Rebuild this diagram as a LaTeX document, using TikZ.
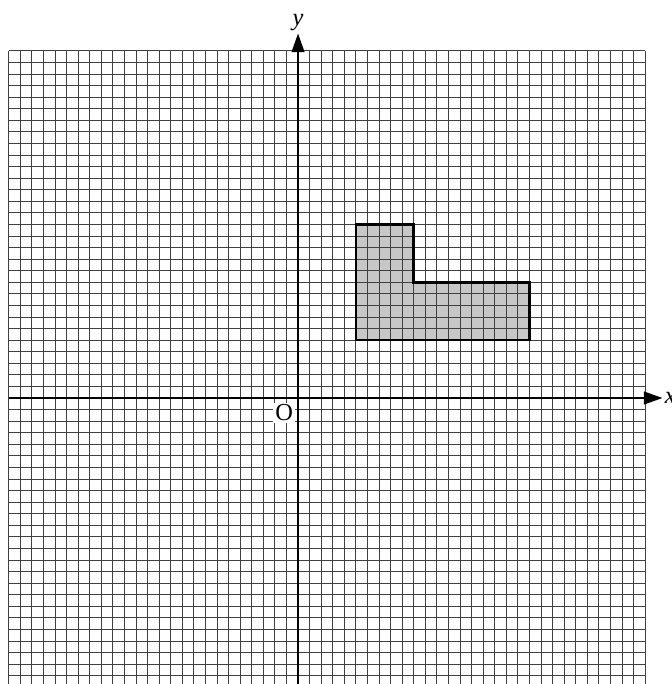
\documentclass[tikz,border=0pt]{standalone}
\usepackage{fontspec}
\setmainfont{Liberation Serif}
\usetikzlibrary{arrows.meta}

\tikzset{
  gridline/.style={line width=0.45pt,color=black!75},
  axisline/.style={line width=0.8pt,-{Triangle[length=0.32cm,width=0.22cm]}},
  lshape/.style={line width=1.3pt,line join=miter},
}

\begin{document}
\begin{tikzpicture}[line cap=butt,x=0.2cm,y=0.2cm]
  \useasboundingbox (-25.76,-24.72) rectangle (32.24,34.4);
  % shaded region
  \fill [color=black!22] (5,5) -- (20,5) -- (20,10) -- (10,10) -- (10,15) -- (5,15) -- cycle;
  % grid
  \draw [gridline,step=1] (-25,-25) grid (30,30);
  % axes
  \coordinate (xstart) at (-25,0);
  \coordinate (xend) at (31.5,0);
  \coordinate (ystart) at (0,-25);
  \coordinate (yend) at (0,31.5);
  \draw [axisline] (xstart) -- (xend);
  \draw [axisline] (ystart) -- (yend);
  \node [anchor=west,inner sep=1pt] (xlabel) at (xend) {\fontsize{12}{14}\selectfont\textit{x}};
  \node [anchor=south,inner sep=1pt] (ylabel) at (yend) {\fontsize{12}{14}\selectfont\textit{y}};
  \node [fill=white,inner sep=1pt] (origin) at (-1.2,-1.3) {\fontsize{12}{14}\selectfont O};
  % outline of the region
  \draw [lshape] (5,5) -- (20,5) -- (20,10) -- (10,10) -- (10,15) -- (5,15) -- cycle;
\end{tikzpicture}
\end{document}
